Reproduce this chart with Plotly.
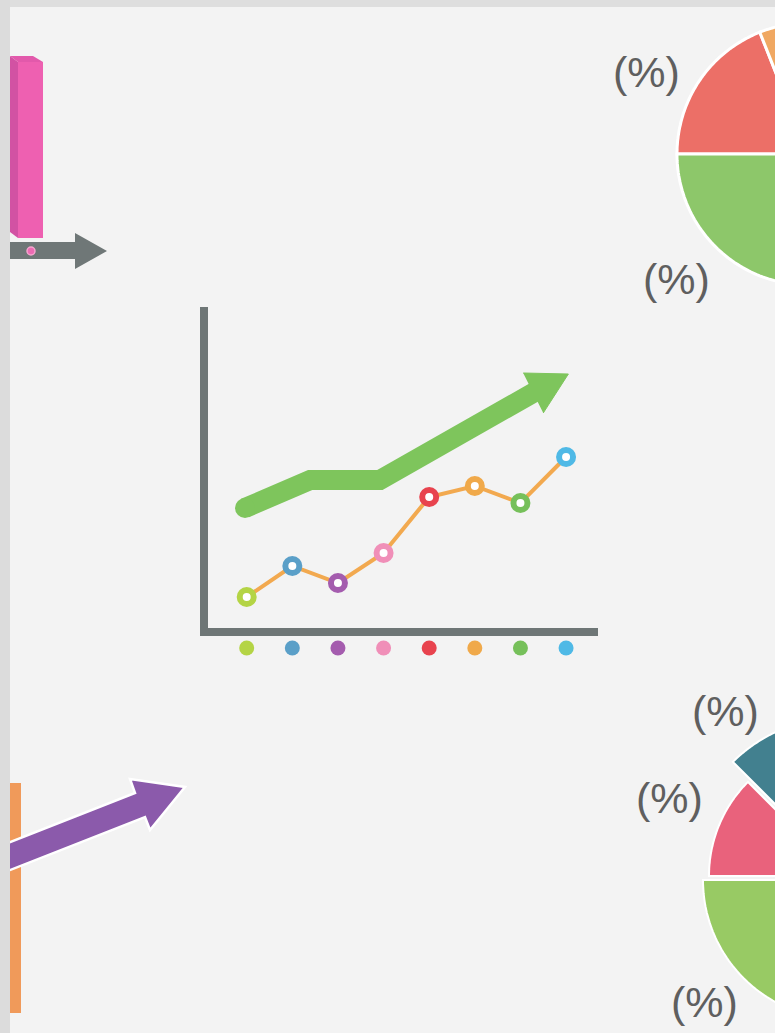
import numpy as np
import plotly.graph_objects as go

# ---------------- data ----------------
categories = [1, 2, 3, 4, 5, 6, 7, 8]
values = [3.1, 6.2, 4.5, 7.5, 13.1, 14.2, 12.5, 17.1]
point_colors = ["#b4d445", "#5a9fc8", "#a45cae", "#f08fb8",
                "#e8434e", "#f0a94a", "#76c05a", "#4fb9e6"]
trend_x = [0.963, 2.39, 3.92, 7.39]
trend_y = [12.0, 14.8, 14.8, 23.8]
head_x = [7.06, 8.05, 7.50]
head_y = [25.5, 25.4, 21.5]

top_pie_labels = ["red", "orange", "blue", "green"]
top_pie_shares = [19, 21, 30, 30]
top_pie_colors = ["#ec6f67", "#f0a862", "#5aa6d0", "#8dc76a"]

bot_pie_labels = ["red", "teal", "other", "green"]
bot_pie_shares = [12.5, 12.5, 45, 30]
bot_pie_colors = ["#e9627c", "#42808f", "#f0b050", "#98ca64"]
pct_text = "(%)"

# ---------------- style / layout helpers ----------------
W, H = 775, 1033
BG = "#f3f3f3"
GRAY = "#6e7676"
TXT = "#5f5f5f"


def wedge(cx, cy, r, a0, a1, n=80):
    t = np.radians(np.linspace(a0, a1, n))
    xs = cx + r * np.cos(t)
    ys = cy - r * np.sin(t)
    p = f"M {cx:.1f},{cy:.1f} " + " ".join(f"L {x:.1f},{y:.1f}" for x, y in zip(xs, ys)) + " Z"
    return p


shapes = []

# top-right pie (starts at 9 o'clock, clockwise)
a = 180.0
for share, col in zip(top_pie_shares, top_pie_colors):
    b = a - share * 3.6
    shapes.append(dict(type="path", xref="x", yref="y", path=wedge(808, 154, 131, a, b),
                       fillcolor=col, line=dict(color="#ffffff", width=3), layer="below"))
    a = b

# bottom-right pie with varying radii / explode
bot_geom = [(842, 876, 133), (839, 868, 150), (842, 880, 139), (842, 880, 139)]
a = 180.0
for share, col, (cx, cy, r) in zip(bot_pie_shares, bot_pie_colors, bot_geom):
    b = a - share * 3.6
    shapes.append(dict(type="path", xref="x", yref="y", path=wedge(cx, cy, r, a, b),
                       fillcolor=col, line=dict(color="#ffffff", width=2), layer="below"))
    a = b

# top-left 3D pink bar
shapes += [
    dict(type="path", xref="x", yref="y", path="M 10,56 L 18,62 L 18,238 L 10,232 Z",
         fillcolor="#d252a3", line=dict(width=0)),
    dict(type="path", xref="x", yref="y", path="M 18,62 L 43,62 L 43,238 L 18,238 Z",
         fillcolor="#ee60b1", line=dict(width=0)),
    dict(type="path", xref="x", yref="y", path="M 10,56 L 33,56 L 43,62 L 18,62 Z",
         fillcolor="#e259ab", line=dict(width=0)),
    # gray arrow
    dict(type="path", xref="x", yref="y",
         path="M 0,242 L 75,242 L 75,233 L 107,251 L 75,269 L 75,259 L 0,259 Z",
         fillcolor="#6f7777", line=dict(width=0)),
    dict(type="circle", xref="x", yref="y", x0=27, y0=247, x1=35, y1=255,
         fillcolor="#ee6bb4", line=dict(color="#f6a6cf", width=1.5)),
    # bottom-left orange bar
    dict(type="rect", xref="x", yref="y", x0=10, y0=783, x1=21, y1=1013,
         fillcolor="#f09a5a", line=dict(width=0)),
    # purple arrow
    dict(type="path", xref="x", yref="y",
         path="M 0,846 L 135,793 L 130,779 L 185,787 L 150,830 L 145,817 L 0,874 Z",
         fillcolor="#8b5aab", line=dict(color="#ffffff", width=2.5)),
    # frame strips
    dict(type="rect", xref="x", yref="y", x0=0, y0=0, x1=W, y1=7,
         fillcolor="#dedede", line=dict(width=0)),
    dict(type="rect", xref="x", yref="y", x0=0, y0=0, x1=10, y1=H,
         fillcolor="#dcdcdc", line=dict(width=0)),
]

fig = go.Figure()

# invisible helper trace on the pixel-space axes
fig.add_trace(go.Scatter(x=[0, W], y=[0, H], mode="markers", marker=dict(opacity=0),
                         hoverinfo="skip", showlegend=False, xaxis="x", yaxis="y"))

# green trend arrow
fig.add_trace(go.Scatter(x=trend_x, y=trend_y, mode="lines",
                         line=dict(color="#7ec55c", width=20),
                         hoverinfo="skip", showlegend=False, xaxis="x2", yaxis="y2"))
fig.add_trace(go.Scatter(x=trend_x[:1], y=trend_y[:1], mode="markers",
                         marker=dict(color="#7ec55c", size=20),
                         hoverinfo="skip", showlegend=False, xaxis="x2", yaxis="y2"))
fig.add_trace(go.Scatter(x=head_x, y=head_y, mode="lines", fill="toself",
                         fillcolor="#7ec55c", line=dict(color="#7ec55c", width=1),
                         hoverinfo="skip", showlegend=False, xaxis="x2", yaxis="y2"))

# line with ring markers
fig.add_trace(go.Scatter(x=categories, y=values, mode="lines+markers",
                         line=dict(color="#f2a94f", width=4),
                         marker=dict(size=14, color="#ffffff",
                                     line=dict(color=point_colors, width=6)),
                         showlegend=False, xaxis="x2", yaxis="y2", cliponaxis=False))

# category dots under the axis (own thin y-axis strip)
fig.add_trace(go.Scatter(x=categories, y=[0.5] * len(categories), mode="markers",
                         marker=dict(size=15, color=point_colors),
                         showlegend=False, xaxis="x2", yaxis="y3", cliponaxis=False))

annotations = []
for (x, y) in [(646, 72), (676, 279), (725, 711), (669, 798), (704, 1002)]:
    annotations.append(dict(x=x, y=y, xref="x", yref="y", text=pct_text, showarrow=False,
                            font=dict(family="Liberation Sans, Arial, sans-serif", size=43, color=TXT),
                            xanchor="center", yanchor="middle"))

fig.update_layout(
    width=W, height=H,
    margin=dict(l=0, r=0, t=0, b=0, pad=0),
    paper_bgcolor=BG, plot_bgcolor="rgba(0,0,0,0)",
    shapes=shapes, annotations=annotations,
    xaxis=dict(range=[0, W], domain=[0, 1], visible=False, fixedrange=True),
    yaxis=dict(range=[H, 0], domain=[0, 1], visible=False, fixedrange=True),
    xaxis2=dict(domain=[208 / W, 598 / W], range=[0.1515, 8.70], anchor="y2",
                showline=True, linewidth=8, linecolor=GRAY,
                showgrid=False, zeroline=False, showticklabels=False, ticks=""),
    yaxis2=dict(domain=[1 - 628 / H, 1 - 307 / H], range=[0, 32.1], anchor="x2",
                showline=True, linewidth=8, linecolor=GRAY,
                showgrid=False, zeroline=False, showticklabels=False, ticks=""),
    yaxis3=dict(domain=[1 - 664 / H, 1 - 632 / H], range=[0, 1], anchor="x2",
                visible=False, showgrid=False, zeroline=False),
)

fig.write_html(
    "out.html",
    config={"displayModeBar": False, "staticPlot": True},
    post_script="document.body.style.margin='0';document.body.style.overflow='hidden';"
                "document.documentElement.style.overflow='hidden';",
)
